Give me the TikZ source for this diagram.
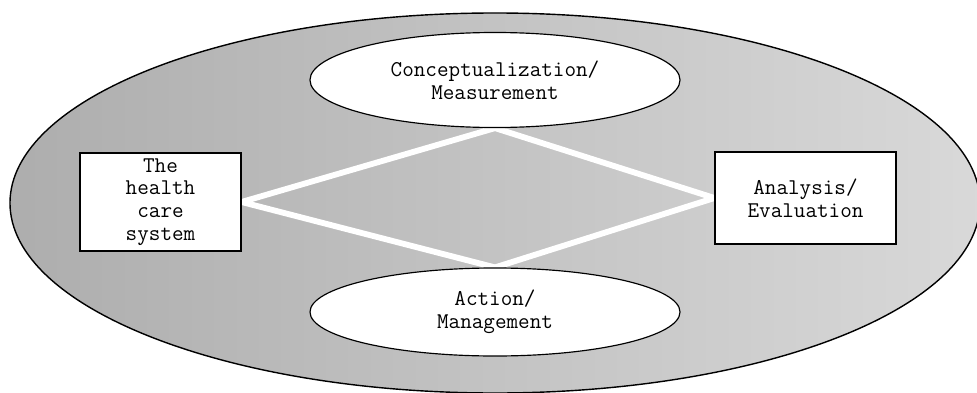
\documentclass[tikz,border=0pt]{standalone}
\usetikzlibrary{shapes.geometric}
\usetikzlibrary{backgrounds}

\begin{document}
\begin{tikzpicture}[
    x=0.03cm, y=-0.03cm,
    every node/.style={draw, fill=white, line width=1pt, align=center, inner sep=0pt,
      font=\ttfamily\fontsize{19.2}{19.5}\selectfont},
    phase/.style={ellipse, minimum width=11.1cm},
    sysbox/.style={rectangle},
    link/.style={white, line width=5pt},
  ]
  \useasboundingbox (0,0) rectangle (977,393);

  \node[phase, minimum height=2.85cm] (concept) at (495,80)  {Conceptualization/\\Measurement};
  \node[phase, minimum height=2.64cm] (action)  at (495,312) {Action/\\Management};
  \node[sysbox, minimum width=4.83cm, minimum height=2.94cm] (health)   at (160.5,202) {The\\health\\care\\system};
  \node[sysbox, minimum width=5.43cm, minimum height=2.76cm] (analysis) at (805.5,198) {Analysis/\\Evaluation};

  \begin{scope}[on background layer]
    \node[ellipse, line width=1.2pt, left color=black!32, right color=black!15,
      minimum width=29.1cm, minimum height=11.4cm] (field) at (495,203) {};
    \draw[link] (health.east) -- (concept.south);
    \draw[link] (health.east) -- (action.north);
    \draw[link] (analysis.west) -- (concept.south);
    \draw[link] (analysis.west) -- (action.north);
  \end{scope}

\end{tikzpicture}
\end{document}
